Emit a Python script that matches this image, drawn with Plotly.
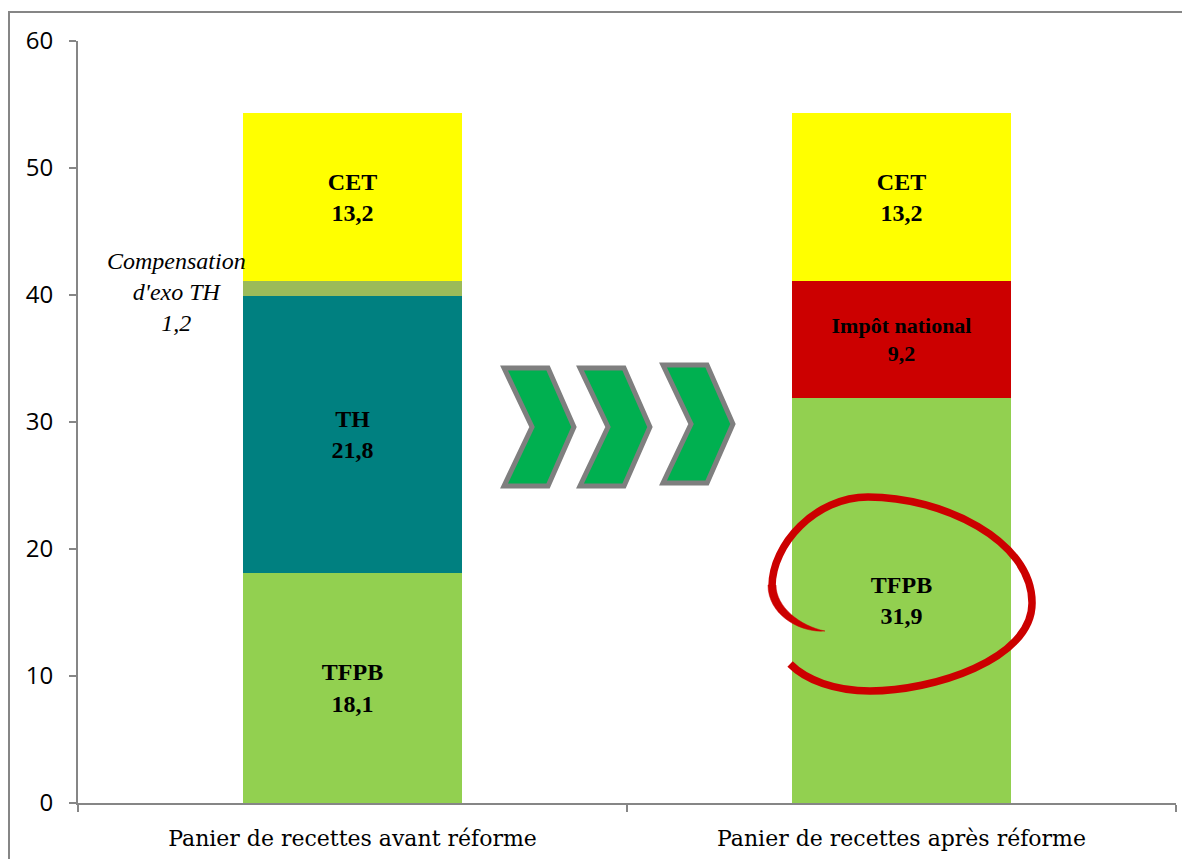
import plotly.graph_objects as go

# Données (en milliards d'euros)
paniers = ['Panier de recettes avant réforme', 'Panier de recettes après réforme']
tfpb = [18.1, 31.9]
th = [21.8, None]
compensation = [1.2, None]
impot_national = [None, 9.2]
cet = [13.2, 13.2]

# la page html a une marge de 8px autour de la figure
OFF = 8
W, H = 1190 - OFF, 859 - OFF
L, R, T, B = 78 - OFF, 14, 41 - OFF, 56


def _fr(v):
    return f"{v:.1f}".replace('.', ',')


def _labels(name, values, show=True):
    return [f"{name}<br>{_fr(v)}" if (v is not None and show) else "" for v in values]


def _px(x, y):
    '''pixel de la page -> coordonnees paper'''
    x, y = x - OFF, y - OFF
    return (x - L) / (W - L - R), (H - B - y) / (H - T - B)


def _path(cmds):
    out = []
    for c in cmds:
        if isinstance(c, str):
            out.append(c)
        else:
            px, py = _px(*c)
            out.append(f"{px:.4f},{py:.4f}")
    return " ".join(out)


fig = go.Figure()

series = [
    ('TFPB', tfpb, '#92D050', True, 24),
    ('TH', th, '#008080', True, 24),
    ("Compensation d'exo TH", compensation, '#9BBB59', False, 24),
    ('Impôt national', impot_national, '#CC0000', True, 22),
    ('CET', cet, '#FFFF00', True, 24),
]

for name, vals, color, show, fsize in series:
    fig.add_trace(go.Bar(x=paniers, y=vals, name=name, marker_color=color,
                         marker_line_width=0,
                         text=_labels(name, vals, show), textposition='inside',
                         insidetextanchor='middle', textangle=0,
                         textfont=dict(family='Liberation Serif', size=fsize, color='black',
                                       weight='bold'),
                         hoverinfo='skip'))

fig.update_layout(
    barmode='stack', bargap=0.6, showlegend=False,
    width=W, height=H, autosize=False,
    margin=dict(l=L, r=R, t=T, b=B, pad=0),
    plot_bgcolor='white', paper_bgcolor='white',
)

fig.update_yaxes(range=[0, 60], dtick=10, showgrid=False, zeroline=False,
                 showline=True, linecolor='#868686', linewidth=2,
                 ticks='outside', ticklen=7, tickcolor='#868686', tickwidth=2,
                 ticklabelstandoff=11, automargin=False,
                 tickfont=dict(family='Open Sans', size=24, color='black'))
fig.update_xaxes(showgrid=False, showline=True, linecolor='#868686', linewidth=2,
                 ticks='outside', tickson='boundaries', ticklen=7,
                 tickcolor='#868686', tickwidth=2, ticklabelstandoff=15, automargin=False,
                 tickfont=dict(family='DejaVu Serif', size=22, color='black'))

# Annotation compensation
fig.add_annotation(x=-0.32, y=tfpb[0] + th[0] + compensation[0] / 2 - 0.3, xref='x', yref='y',
                   text="Compensation<br>d'exo TH<br>1,2", showarrow=False,
                   font=dict(family='Liberation Serif', size=24, color='black', style='italic'),
                   align='center')

# Cadre exterieur
x0, y0 = _px(9, 12)
x1, y1 = _px(1210, 880)
fig.add_shape(type='rect', xref='paper', yref='paper', x0=x0, y0=y1, x1=x1, y1=y0,
              line=dict(color='#868686', width=2), layer='below')

# Chevrons
for lx, ty in [(504, 368), (580, 368), (663, 365)]:
    fig.add_shape(type='path', xref='paper', yref='paper',
                  path=_path(['M', (lx, ty), 'L', (lx + 44, ty), 'L', (lx + 70, ty + 59),
                              'L', (lx + 44, ty + 118), 'L', (lx, ty + 118),
                              'L', (lx + 28, ty + 59), 'Z']),
                  fillcolor='#00B050', line=dict(color='#7F7F7F', width=5))

# Cercle rouge a main levee
red = '#CC0000'
# debut effile
fig.add_shape(type='path', xref='paper', yref='paper',
              path=_path(['M', (825, 631), 'C', (800, 633), (768, 615), (768, 585),
                          'L', (776, 585), 'C', (776, 607), (800, 626), (825, 631), 'Z']),
              fillcolor=red, line=dict(color=red, width=0.5))
fig.add_shape(type='path', xref='paper', yref='paper',
              path=_path(['M', (772, 586), 'C', (772, 545), (815, 497), (868, 497),
                          'C', (942, 497), (1032, 540), (1032, 603),
                          'C', (1032, 660), (932, 691), (870, 691),
                          'C', (835, 691), (806, 680), (790, 664)]),
              line=dict(color=red, width=7.5))

fig.write_html("out.html")
